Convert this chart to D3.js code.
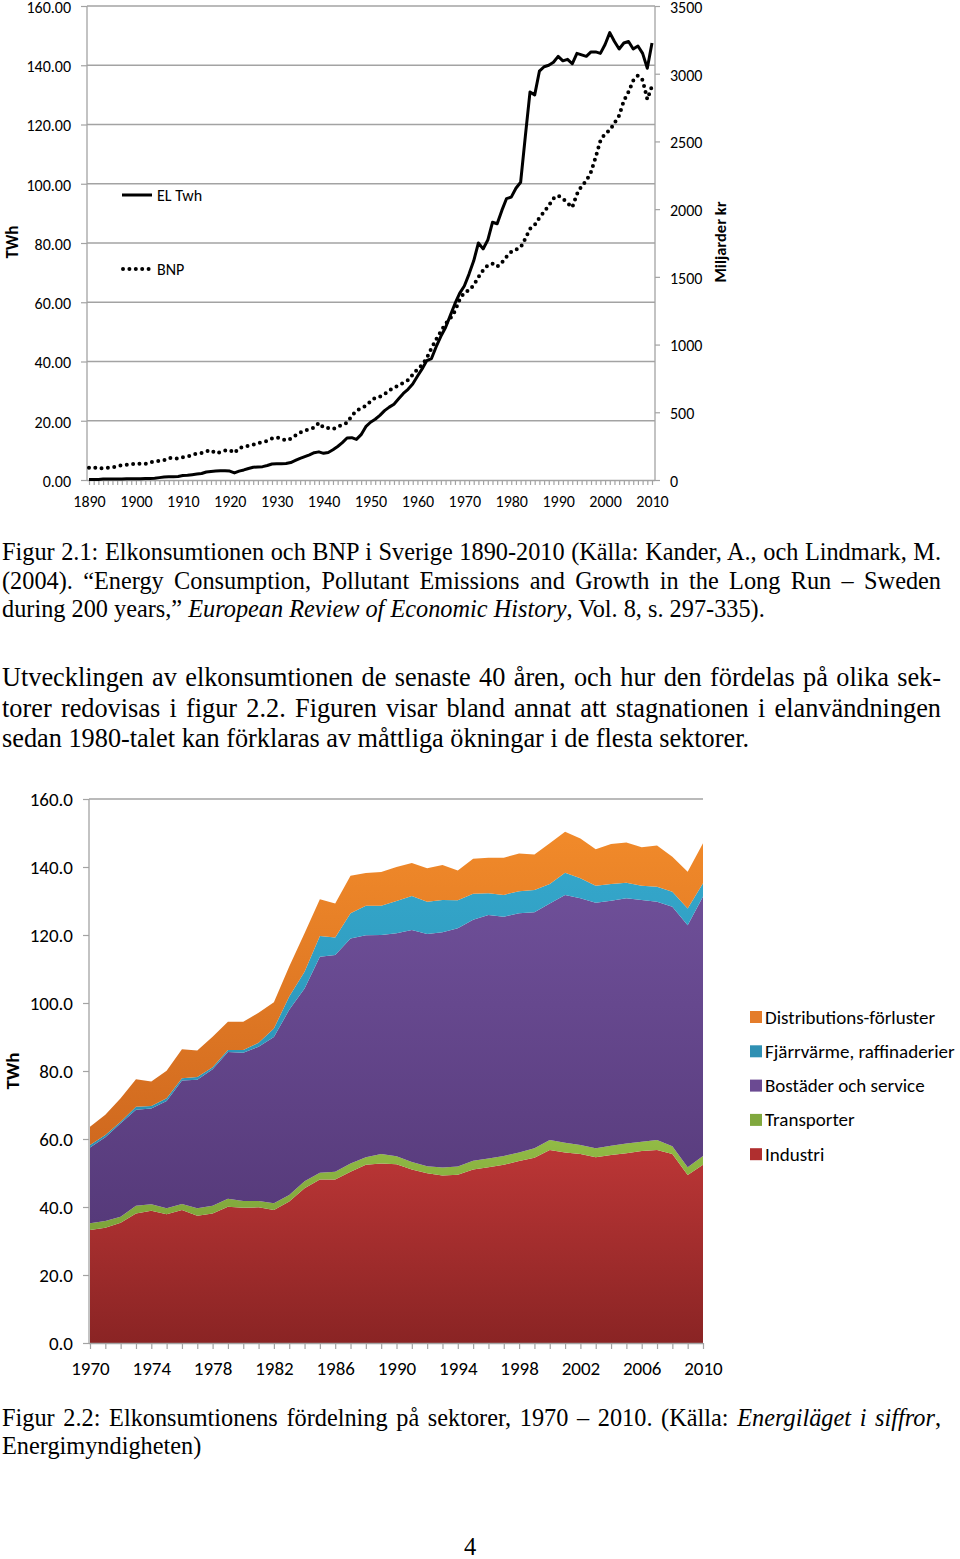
<!DOCTYPE html>
<html>
<head>
<meta charset="utf-8">
<script src="https://cdnjs.cloudflare.com/ajax/libs/d3/7.8.5/d3.min.js"></script>
<style>
body { margin: 0; background: #fff; }
#page { position: relative; width: 960px; height: 1559px; overflow: hidden; background: #fff; }
#page svg { position: absolute; left: 0; top: 0; }
.para { position: absolute; left: 2px; width: 939px; font-family: "Liberation Serif", "Times New Roman", serif; color: #000; }
.para div { white-space: nowrap; text-align: left; }
.chart text { font-family: Carlito, Lato, sans-serif; fill: #000; }
</style>
</head>
<body>
<div id="page">
  <svg id="chart" class="chart" width="960" height="1559"></svg>

  <div class="para" style="top:538px; font-size:24.3px; line-height:28.5px;">
    <div class="j">Figur 2.1: Elkonsumtionen och BNP i Sverige 1890-2010 (Källa: Kander, A., och Lindmark, M.</div>
    <div class="j">(2004). “Energy Consumption, Pollutant Emissions and Growth in the Long Run – Sweden</div>
    <div>during 200 years,” <i>European Review of Economic History</i>, Vol. 8, s. 297-335).</div>
  </div>

  <div class="para" style="top:663px; font-size:26.3px; line-height:30.7px;">
    <div class="j">Utvecklingen av elkonsumtionen de senaste 40 åren, och hur den fördelas på olika sek-</div>
    <div class="j">torer redovisas i figur 2.2. Figuren visar bland annat att stagnationen i elanvändningen</div>
    <div>sedan 1980-talet kan förklaras av måttliga ökningar i de flesta sektorer.</div>
  </div>

  <div class="para" style="top:1404px; font-size:24.3px; line-height:28.2px;">
    <div class="j">Figur 2.2: Elkonsumtionens fördelning på sektorer, 1970 – 2010. (Källa: <i>Energiläget i siffror</i>,</div>
    <div>Energimyndigheten)</div>
  </div>

  <div class="para" style="top:1532px; left:464px; width:20px; font-size:24.5px; line-height:30px;">4</div>
</div>

<script>
// Figur 2.1 - elkonsumtion (TWh) och BNP (miljarder kr), 1890-2010
var years1 = d3.range(1890, 2011)
var elTwh = [
  0.2,0.2,0.2,0.3,0.3,0.3,0.3,0.3,0.4,0.4,
  0.4,0.4,0.5,0.5,0.6,0.8,1.0,1.1,1.1,1.2,
  1.5,1.6,1.8,2.0,2.2,2.7,2.9,3.0,3.1,3.1,
  3.0,2.4,3.0,3.4,3.9,4.3,4.4,4.5,4.9,5.4,
  5.5,5.5,5.6,5.9,6.6,7.3,7.9,8.5,9.2,9.5,
  9.0,9.3,10.2,11.3,12.6,14.2,14.3,13.7,15.3,18.0,
  19.5,20.5,21.8,23.4,24.6,25.6,27.4,29.2,30.6,32.4,
  35.0,37.5,40.3,41.0,45.0,48.5,51.5,55.5,59.5,63.0,
  65.5,69.5,74.0,80.0,78.0,81.0,87.0,86.5,91.0,95.0,
  95.5,98.5,100.5,116.0,131.0,130.0,138.0,139.5,140.0,141.0,
  143.0,141.5,142.0,140.5,144.0,143.5,143.0,144.5,144.5,144.0,
  147.0,151.0,148.0,145.5,147.5,148.0,145.5,146.5,144.0,139.0,147.5
]
var bnp = [
  90,94,83,88,90,92,101,109,112,116,
  123,120,118,129,138,140,147,164,158,158,
  168,173,184,197,199,212,221,197,206,217,
  221,199,236,243,254,260,273,280,289,306,
  315,306,291,304,328,350,365,376,387,422,
  387,383,376,392,409,422,473,512,529,547,
  580,608,615,634,663,680,700,718,737,777,
  818,849,901,973,1039,1098,1155,1192,1247,1334,
  1385,1400,1439,1498,1549,1586,1597,1575,1606,1649,
  1684,1702,1717,1783,1855,1883,1936,1980,2026,2078,
  2100,2078,2045,2013,2111,2172,2209,2275,2384,2505,
  2559,2581,2636,2691,2800,2866,2949,2986,2953,2811,2909
]
var leftTicks1 = [0, 20, 40, 60, 80, 100, 120, 140, 160]
var rightTicks1 = [0, 500, 1000, 1500, 2000, 2500, 3000, 3500]

// Figur 2.2 - elanvändning per sektor (TWh), 1970-2010
var years2 = d3.range(1970, 2011)
var sectors = ["Industri", "Transporter", "Bostäder och service", "Fjärrvärme, raffinaderier", "Distributions-förluster"]
var industri = [33.2,33.9,35.4,38.1,38.9,37.9,39.1,37.4,38.1,40.1,39.8,39.9,39.1,41.6,45.5,48.1,48.1,50.4,52.4,52.8,52.6,51.0,49.9,49.3,49.5,51.0,51.7,52.4,53.5,54.5,56.8,56.0,55.6,54.6,55.3,55.8,56.5,56.8,55.6,49.4,52.4]
var transporter = [2.0,2.0,1.7,2.3,1.9,1.7,1.8,2.2,2.3,2.3,2.0,1.9,2.0,1.9,2.1,2.0,2.3,2.4,2.2,2.8,2.3,2.2,2.1,2.3,2.4,2.6,2.6,2.6,2.5,2.8,2.9,2.9,2.6,2.7,2.7,2.9,2.7,2.9,2.3,2.3,2.6]
var bostader = [22.3,24.6,27.5,28.2,28.2,31.6,36.3,37.8,40.1,43.2,43.6,45.3,48.9,54.5,56.7,63.5,63.7,66.2,65.3,64.4,65.6,68.3,68.3,69.2,70.1,70.9,71.6,70.4,70.4,69.4,69.6,72.9,72.6,72.2,72.1,72.1,71.1,70.1,70.4,71.2,76.3]
var fjarrvarme = [0.7,0.7,0.5,0.9,0.7,0.8,0.7,0.8,0.6,0.6,0.8,1.2,2.5,3.9,4.9,6.1,5.2,7.4,8.7,8.6,9.5,10.0,9.5,9.5,8.2,7.6,6.4,6.4,6.5,6.5,5.7,6.5,5.9,5.0,4.9,4.6,4.2,4.4,4.4,4.9,3.9]
var distribution = [5.4,5.9,6.9,8.1,7.2,8.1,8.5,7.8,9.0,8.3,8.3,8.8,7.7,8.8,11.3,10.8,10.0,11.0,9.6,9.9,10.0,9.7,9.8,10.3,8.8,10.3,10.4,10.9,11.1,10.5,12.0,12.1,11.7,10.7,11.8,11.8,11.3,12.1,10.3,10.8,11.8]
var leftTicks2 = [0, 20, 40, 60, 80, 100, 120, 140, 160]
var xLabels2 = [1970, 1974, 1978, 1982, 1986, 1990, 1994, 1998, 2002, 2006, 2010]

// justify the full lines of the page text by word spacing
document.querySelectorAll('.para .j').forEach(function(el){
  el.innerHTML = '<span>' + el.innerHTML + '</span>'
  var w = el.firstChild.getBoundingClientRect().width
  var n = (el.textContent.match(/ /g) || []).length
  el.style.wordSpacing = ((939 - w) / n) + 'px'
})

var svg = d3.select('#chart')
var grey = "#a3a3a3"

// ---------- chart 1 ----------
var x1 = d3.scaleLinear().domain([1890, 2010]).range([89, 652])
var yL = d3.scaleLinear().domain([0, 160]).range([480, 6])
var yR = d3.scaleLinear().domain([0, 3500]).range([480, 6])

var g1 = svg.append('g')

g1.selectAll('line.grid').data(leftTicks1.slice(1)).enter()
  .append('line')
  .attr('class', 'grid')
  .attr('x1', 87).attr('x2', 655)
  .attr('y1', d => yL(d)).attr('y2', d => yL(d))
  .attr('stroke', grey).attr('stroke-width', 1.3)

var axL = g1.append('g')
  .attr('transform', 'translate(87,0)')
  .call(d3.axisLeft(yL).tickValues(leftTicks1).tickFormat(d3.format('.2f')).tickSize(6).tickPadding(10))
var axR = g1.append('g')
  .attr('transform', 'translate(655,0)')
  .call(d3.axisRight(yR).tickValues(rightTicks1).tickFormat(d3.format('d')).tickSize(5).tickPadding(10))
var axB = g1.append('g')
  .attr('transform', 'translate(0,480)')
  .call(d3.axisBottom(x1).tickValues(years1).tickFormat(d => d % 10 == 0 ? d : '').tickSize(5).tickPadding(11))

;[axL, axR, axB].forEach(function(ax){
  ax.selectAll('path.domain').attr('stroke', grey).attr('stroke-width', 1.3)
  ax.selectAll('line').attr('stroke', grey).attr('stroke-width', 1.2)
  ax.selectAll('text').attr('font-size', 16).attr('fill', '#000')
})
axL.selectAll('text').attr('dy', '0.4em')
axR.selectAll('text').attr('dy', '0.4em')
axB.select('path.domain').attr('d', 'M87,0.5H655')
axL.select('path.domain').attr('d', 'M0,6V480')
axR.select('path.domain').attr('d', 'M0,6V480')

var lineEl = d3.line().x((d, i) => x1(years1[i])).y(d => yL(d))
var lineBnp = d3.line().x((d, i) => x1(years1[i])).y(d => yR(d))

g1.append('path').datum(bnp)
  .attr('d', lineBnp)
  .attr('fill', 'none').attr('stroke', '#000')
  .attr('stroke-width', 4).attr('stroke-linecap', 'round')
  .attr('stroke-dasharray', '0 6.4')

g1.append('path').datum(elTwh)
  .attr('d', lineEl)
  .attr('fill', 'none').attr('stroke', '#000')
  .attr('stroke-width', 3).attr('stroke-linejoin', 'round')

// legend chart 1
g1.append('line').attr('x1', 122).attr('x2', 152).attr('y1', 195).attr('y2', 195)
  .attr('stroke', '#000').attr('stroke-width', 3)
g1.append('text').attr('x', 157).attr('y', 201).attr('font-size', 16).text('EL Twh')
g1.append('line').attr('x1', 123).attr('x2', 149).attr('y1', 269).attr('y2', 269)
  .attr('stroke', '#000').attr('stroke-width', 4).attr('stroke-linecap', 'round')
  .attr('stroke-dasharray', '0 6.4')
g1.append('text').attr('x', 157).attr('y', 275).attr('font-size', 16).text('BNP')

g1.append('text')
  .attr('transform', 'translate(18,242) rotate(-90)')
  .attr('text-anchor', 'middle').attr('font-size', 17).attr('font-weight', 'bold')
  .text('TWh')
g1.append('text')
  .attr('transform', 'translate(726,242) rotate(-90)')
  .attr('text-anchor', 'middle').attr('font-size', 16.5).attr('font-weight', 'bold')
  .text('Miljarder kr')

// ---------- chart 2 ----------
var x2 = d3.scaleLinear().domain([1970, 2010]).range([90, 703])
var y2 = d3.scaleLinear().domain([0, 160]).range([1343, 799])

var rows = years2.map(function(yr, i){
  return {
    year: yr,
    "Industri": industri[i],
    "Transporter": transporter[i],
    "Bostäder och service": bostader[i],
    "Fjärrvärme, raffinaderier": fjarrvarme[i],
    "Distributions-förluster": distribution[i]
  }
})
var stacked = d3.stack().keys(sectors)(rows)

var colors = {
  "Industri": ["#bb3636", "#8a2424", "#b02f2f"],
  "Transporter": ["#92bb45", "#7da33a", "#80a83e"],
  "Bostäder och service": ["#6e4f98", "#563a7a", "#6b4a92"],
  "Fjärrvärme, raffinaderier": ["#34a6ca", "#2a8fb2", "#2f90b3"],
  "Distributions-förluster": ["#f18a2a", "#d0691f", "#e47c2a"]
}

var defs = svg.append('defs')
sectors.forEach(function(k, i){
  var gr = defs.append('linearGradient').attr('id', 'grad' + i)
    .attr('x1', 0).attr('y1', 0).attr('x2', 0).attr('y2', 1)
  gr.append('stop').attr('offset', '0%').attr('stop-color', colors[k][0])
  gr.append('stop').attr('offset', '100%').attr('stop-color', colors[k][1])
})

var g2 = svg.append('g')

g2.append('line').attr('x1', 89).attr('x2', 703).attr('y1', y2(160)).attr('y2', y2(160))
  .attr('stroke', grey).attr('stroke-width', 1.3)

var area = d3.area()
  .x(d => x2(d.data.year))
  .y0(d => y2(d[0]))
  .y1(d => y2(d[1]))

g2.selectAll('path.layer').data(stacked).enter()
  .append('path')
  .attr('class', 'layer')
  .attr('d', area)
  .attr('fill', (d, i) => 'url(#grad' + i + ')')

var ax2L = g2.append('g')
  .attr('transform', 'translate(89,0)')
  .call(d3.axisLeft(y2).tickValues(leftTicks2).tickFormat(d3.format('.1f')).tickSize(6).tickPadding(10))
var ax2B = g2.append('g')
  .attr('transform', 'translate(0,1343)')
  .call(d3.axisBottom(x2).tickValues(years2).tickFormat(d => xLabels2.indexOf(d) >= 0 ? d : '').tickSize(6).tickPadding(13))

;[ax2L, ax2B].forEach(function(ax){
  ax.selectAll('path.domain').attr('stroke', grey).attr('stroke-width', 1.3)
  ax.selectAll('line').attr('stroke', grey).attr('stroke-width', 1.2)
  ax.selectAll('text').attr('font-size', 19).attr('fill', '#000')
})
ax2L.select('path.domain').attr('d', 'M0,799V1343')
ax2B.select('path.domain').attr('d', 'M89,0.5H703')

g2.append('text')
  .attr('transform', 'translate(19,1071) rotate(-90)')
  .attr('text-anchor', 'middle').attr('font-size', 19).attr('font-weight', 'bold')
  .text('TWh')

// legend chart 2, top entry first
var legendOrder = sectors.slice().reverse()
var leg = g2.selectAll('g.leg').data(legendOrder).enter()
  .append('g').attr('class', 'leg')
  .attr('transform', (d, i) => 'translate(750,' + (1017 + i * 34.3) + ')')
leg.append('rect').attr('x', 0).attr('y', -6).attr('width', 12).attr('height', 12)
  .attr('fill', d => colors[d][2])
leg.append('text').attr('x', 15).attr('y', 6.5).attr('font-size', 19).text(d => d)
</script>
</body>
</html>
